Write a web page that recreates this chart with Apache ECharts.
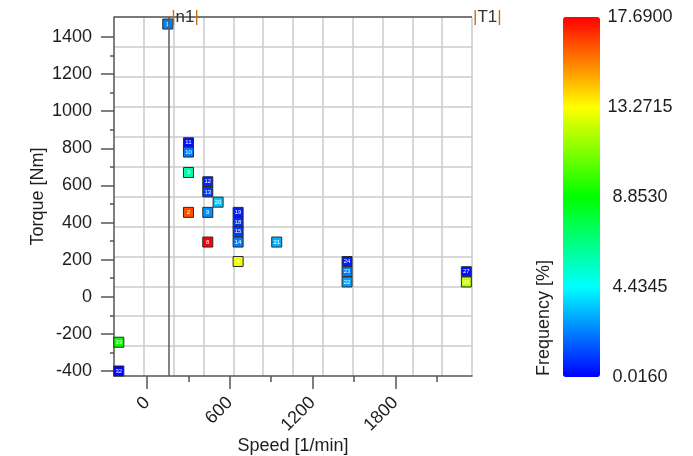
<!DOCTYPE html>
<html>
<head>
<meta charset="utf-8">
<script src="https://cdn.jsdelivr.net/npm/echarts@6/dist/echarts.min.js"></script>
<style>
  html, body { margin: 0; padding: 0; background: #fff; }
  #chart { width: 693px; height: 456px; }
</style>
</head>
<body>
<div id="chart"></div>
<script>
// Operating points: speed [1/min], torque [Nm], frequency [%], point id
const pointIds  = ['1', '11', '10', '3', '12', '13', '20', '2', '9', '19', '18', '15', '14', '8', '21', '4', '24', '23', '22', '27', '26', '33', '32'];
const speed     = [150, 300, 300, 300, 440, 440, 515, 300, 440, 660, 660, 660, 660, 440, 940, 660, 1450, 1450, 1450, 2315, 2315, -205, -205];
const torque    = [1470, 830, 780, 670, 620, 565, 510, 455, 455, 455, 400, 350, 295, 295, 295, 190, 190, 135, 80, 135, 80, -245, -400];
const frequency = [2.3, 0.3, 2.1, 6.0, 0.6, 1.0, 3.5, 16.3, 2.5, 0.5, 0.8, 1.0, 2.2, 17.69, 3.1, 13.0, 0.5, 2.2, 2.8, 0.3, 12.2, 9.0, 0.016];

// Axis extents and tick values
const speedRange = [-240, 2356];
const torqueRange = [-427, 1508];
const speedTicks = [0, 600, 1200, 1800];
const speedMinorTicks = [300, 900, 1500, 2100];
const torqueTicks = [-400, -200, 0, 200, 400, 600, 800, 1000, 1200, 1400];
const torqueMinorTicks = [-300, -100, 100, 300, 500, 700, 900, 1100, 1300];
const freqRange = [0.016, 17.69];
const freqTicks = [0.016, 4.4345, 8.853, 13.2715, 17.69];
const gridDivisions = 12;

// Reference lines
const n1Speed = 160;
const t1Torque = 1508;

const FONT = "'Liberation Sans', Arial, sans-serif";
const AXIS_COLOR = '#555';
const TEXT_COLOR = '#1e1e1e';

const points = speed.map((s, i) => [s, torque[i], frequency[i], pointIds[i]]);

const chart = echarts.init(document.getElementById('chart'), null, { renderer: 'canvas' });

const refLabelRich = {
  b: { color: '#c0701a', fontSize: 17, fontFamily: FONT },
  t: { color: '#333', fontSize: 17, fontFamily: FONT }
};

const plainNumber = v => String(v);

chart.setOption({
  animation: false,
  textStyle: { fontFamily: FONT },
  grid: [
    { left: 114, top: 17, width: 358, height: 359, outerBoundsMode: 'none', containLabel: false },
    { left: 563, top: 17, width: 37, height: 360, outerBoundsMode: 'none', containLabel: false }
  ],
  xAxis: [
    {
      gridIndex: 0, type: 'value', position: 'bottom',
      min: speedRange[0], max: speedRange[1],
      name: 'Speed [1/min]', nameLocation: 'middle', nameGap: 61, nameMoveOverlap: false,
      nameTextStyle: { fontSize: 18, color: TEXT_COLOR, fontFamily: FONT },
      axisLine: { show: true, onZero: false, lineStyle: { color: AXIS_COLOR, width: 1.5 } },
      axisTick: { show: true, length: 13, customValues: speedTicks, lineStyle: { color: AXIS_COLOR, width: 1.5 } },
      axisLabel: { customValues: speedTicks, rotate: 45, margin: 24, fontSize: 18, color: TEXT_COLOR, fontFamily: FONT, formatter: plainNumber },
      splitLine: { show: false }
    },
    {
      gridIndex: 0, type: 'value', position: 'bottom',
      min: 0, max: gridDivisions, interval: 1,
      axisLine: { show: false, onZero: false }, axisTick: { show: false }, axisLabel: { show: false },
      splitLine: { show: true, showMinLine: false, lineStyle: { color: '#c9cbcd', width: 1.5 } }
    },
    {
      gridIndex: 0, type: 'value', position: 'bottom',
      min: speedRange[0], max: speedRange[1],
      axisLine: { show: false, onZero: false },
      axisTick: { show: true, length: 6, customValues: speedMinorTicks, lineStyle: { color: AXIS_COLOR, width: 1.5 } },
      axisLabel: { show: false }, splitLine: { show: false }
    },
    { gridIndex: 1, type: 'value', show: false, min: 0, max: 1 }
  ],
  yAxis: [
    {
      gridIndex: 0, type: 'value', position: 'left',
      min: torqueRange[0], max: torqueRange[1],
      name: 'Torque [Nm]', nameLocation: 'middle', nameGap: 67, nameMoveOverlap: false,
      nameTextStyle: { fontSize: 18, color: TEXT_COLOR, fontFamily: FONT },
      axisLine: { show: true, onZero: false, lineStyle: { color: AXIS_COLOR, width: 1.5 } },
      axisTick: { show: true, length: 13, customValues: torqueTicks, lineStyle: { color: AXIS_COLOR, width: 1.5 } },
      axisLabel: { customValues: torqueTicks, margin: 22, fontSize: 18, color: TEXT_COLOR, fontFamily: FONT, formatter: plainNumber },
      splitLine: { show: false }
    },
    {
      gridIndex: 0, type: 'value', position: 'left',
      min: 0, max: gridDivisions, interval: 1,
      axisLine: { show: false, onZero: false }, axisTick: { show: false }, axisLabel: { show: false },
      splitLine: { show: true, showMinLine: false, lineStyle: { color: '#c9cbcd', width: 1.5 } }
    },
    {
      gridIndex: 0, type: 'value', position: 'left',
      min: torqueRange[0], max: torqueRange[1],
      axisLine: { show: false, onZero: false },
      axisTick: { show: true, length: 4, customValues: torqueMinorTicks, lineStyle: { color: AXIS_COLOR, width: 1.5 } },
      axisLabel: { show: false }, splitLine: { show: false }
    },
    {
      gridIndex: 1, type: 'value', position: 'right',
      min: freqRange[0], max: freqRange[1],
      axisLine: { show: false }, axisTick: { show: false }, splitLine: { show: false },
      axisLabel: {
        customValues: freqTicks, margin: 40, align: 'center',
        fontSize: 18, color: TEXT_COLOR, fontFamily: FONT,
        formatter: v => Number(v).toFixed(4)
      }
    }
  ],
  visualMap: {
    type: 'continuous',
    min: freqRange[0], max: freqRange[1],
    dimension: 2, seriesIndex: 0,
    calculable: false, hoverLink: false, realtime: false,
    left: 563, top: 17, padding: 0,
    itemWidth: 37, itemHeight: 360,
    inRange: { color: ['#0000ff', '#00ffff', '#00ff00', '#ffff00', '#ff0000'] }
  },
  graphic: [
    {
      type: 'text', x: 544, y: 376, rotation: Math.PI / 2,
      style: { text: 'Frequency [%]', font: '18px ' + FONT, fill: TEXT_COLOR, align: 'left', verticalAlign: 'middle' }
    }
  ],
  series: [
    {
      type: 'scatter', xAxisIndex: 0, yAxisIndex: 0,
      symbol: 'rect', symbolSize: 10,
      data: points,
      itemStyle: { borderColor: '#2a2a2a', borderWidth: 1, opacity: 1 },
      label: {
        show: true, position: 'inside', fontSize: 6, color: '#fff', fontFamily: FONT,
        formatter: p => p.value[3]
      },
      z: 3
    },
    {
      type: 'scatter', xAxisIndex: 0, yAxisIndex: 0, data: [],
      markLine: {
        silent: true, symbol: ['none', 'none'], animation: false,
        lineStyle: { type: 'solid', color: '#5a5a5a', width: 1.5 },
        data: [
          {
            name: 'n1', xAxis: n1Speed,
            label: {
              show: true, position: 'end', align: 'left', verticalAlign: 'middle', distance: [0, 0],
              padding: [0, 0, 0, 2], formatter: '{b||}{t|n1}{b||}', rich: refLabelRich
            }
          },
          {
            name: 'T1', yAxis: t1Torque,
            label: {
              show: true, position: 'end', align: 'left', verticalAlign: 'middle', distance: [1, 0],
              formatter: '{b||}{t|T1}{b||}', rich: refLabelRich
            }
          }
        ]
      }
    }
  ]
});
</script>
</body>
</html>
